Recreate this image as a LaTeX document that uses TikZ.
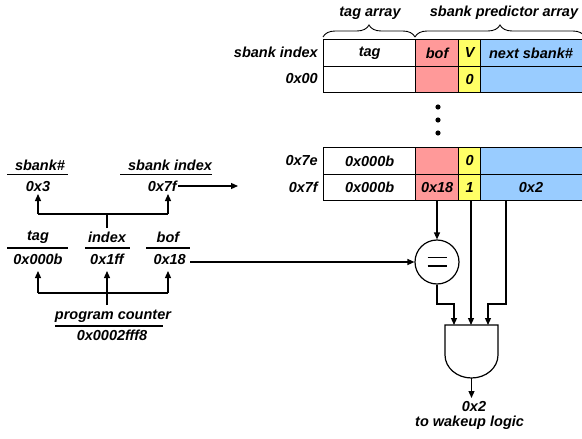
\documentclass[tikz,border=0pt]{standalone}
\usepackage{fontspec}
\setmainfont{Liberation Sans}
\usetikzlibrary{arrows.meta,decorations.pathreplacing,calc}
\definecolor{pinkc}{HTML}{FF9999}
\definecolor{yelc}{HTML}{FFFF66}
\definecolor{bluec}{HTML}{99CCFF}
\begin{document}
\begin{tikzpicture}[x=1pt,y=-1pt,
  txt/.style={font=\bfseries\itshape\fontsize{14.5}{16}\selectfont, inner sep=0pt},
  cell/.style={draw, line width=1.3pt, anchor=north west, minimum height=26.5pt, inner sep=0pt},
  wire/.style={line width=1.2pt},
  arr/.style={wire, -{Triangle[length=7pt,width=6pt]}},
  uline/.style={line width=1.2pt},
  brc/.style={decorate, decoration={brace, amplitude=12pt}, line width=0.9pt}]
\useasboundingbox (0,0) rectangle (582,439);
\clip (0,0) rectangle (582,439);
% table cells
\foreach \r/\y in {h/39, a/65.5, e/147, f/173.5}{
  \node[cell, minimum width=92pt] (tag\r) at (323,\y) {};
  \node[cell, minimum width=43pt, fill=pinkc] (bof\r) at (415,\y) {};
  \node[cell, minimum width=22pt, fill=yelc] (v\r) at (458,\y) {};
  \node[cell, minimum width=112pt, fill=bluec] (nx\r) at (480,\y) {};
}
% cell texts
\node[txt] at (tagh) {tag};
\node[txt] at (bofh) {bof};
\node[txt] at (vh) {V};
\node[txt] at (nxh.center -| 531,0) {next sbank\#};
\node[txt] at (va) {0};
\node[txt] at (tage) {0x000b};
\node[txt] at (ve) {0};
\node[txt] at (tagf) {0x000b};
\node[txt] at (boff) {0x18};
\node[txt] at (vf) {1};
\node[txt] at (nxf.center -| 531,0) {0x2};
% row labels
\node[txt, anchor=east] (rh) at (318,52.5) {sbank index};
\node[txt, anchor=east] (ra) at (318,79) {0x00};
\node[txt, anchor=east] (re) at (318,160.5) {0x7e};
\node[txt, anchor=east] (rf) at (318,187) {0x7f};
% braces
\draw[brc] (323,37) -- (415,37);
\draw[brc] (415,37) -- (585,37);
\node[txt] (tagarr) at (370,13) {tag array};
\node[txt] (sbarr) at (504,13) {sbank predictor array};
% dots
\foreach \y in {107,120,133}{\fill (438,\y) circle (2.6pt);}
% left side
\node[txt] (sbn) at (40,165) {sbank\#};
\draw[uline] (7,174.5) -- (68,174.5);
\node[txt] (v3) at (38,187) {0x3};
\node[txt] (sbi) at (170,165) {sbank index};
\draw[uline] (120,174.5) -- (212,174.5);
\node[txt, anchor=east] (v7f) at (177,186.5) {0x7f};
\node[txt] (tagL) at (38,237) {tag};
\draw[uline] (7,248) -- (68,248);
\node[txt] (v000b) at (38,259) {0x000b};
\node[txt] (idxL) at (107,237) {index};
\draw[uline] (85,248) -- (130,248);
\node[txt] (v1ff) at (107,259) {0x1ff};
\node[txt] (bofL) at (168,237) {bof};
\draw[uline] (146,248) -- (190,248);
\node[txt, anchor=east] (v18) at (186,259.5) {0x18};
\node[txt] (pc) at (113,316) {program counter};
\draw[uline] (55,326) -- (163,326);
\node[txt] (pcv) at (112,335) {0x0002fff8};
% upper tree
\coordinate (j1) at (107,214);
\coordinate (j1l) at (38,214);
\coordinate (j1r) at (168,214);
\draw[wire] (107,228) -- (j1);
\draw[wire] (j1l) -- (j1r);
\draw[arr] (j1l) -- (38,194);
\draw[arr] (j1r) -- (168,194);
\coordinate (o7f) at (238,186);
\draw[arr] (v7f.east |- o7f) ++(1,0) -- (o7f);
% lower tree
\coordinate (j2) at (107,293);
\coordinate (j2l) at (38,293);
\coordinate (j2r) at (168,293);
\draw[wire] (107,305) -- (j2);
\draw[wire] (j2l) -- (j2r);
\draw[arr] (j2l) -- (38,271);
\draw[arr] (j2) -- (107,271);
\draw[arr] (j2r) -- (168,271);
% comparator
\node[circle, draw, line width=1.2pt, minimum size=44pt, inner sep=0pt] (cmp) at (437,262) {};
\draw[line width=1.1pt] ($(cmp.center)+(-9.5,-4.5)$) -- +(19,0);
\draw[line width=1.1pt] ($(cmp.center)+(-9.5,4)$) -- +(19,0);
\draw[arr] (190,262) -- (cmp.west);
\draw[arr] (437,200) -- (cmp.north);
% AND gate
\coordinate (gin1) at (454,325);
\coordinate (gin2) at (471,325);
\coordinate (gin3) at (488,325);
\coordinate (gout) at (471.5,378);
\draw[line width=1.2pt] (445,325) -- (498,325) -- (498,355) arc[start angle=0, end angle=180, x radius=26.5, y radius=23] -- cycle;
\draw[arr] (cmp.south) -- (437,304) -- (454,304) -- (gin1);
\draw[arr] (471,200) -- (gin2);
\draw[arr] (506,200) -- (506,304) -- (488,304) -- (gin3);
\coordinate (oend) at (471.5,398);
\draw[arr] (gout) -- (oend);
\node[txt] (res) at (474,406.5) {0x2};
\node[txt, anchor=west] (wk) at (415,423) {to wakeup logic};
\end{tikzpicture}
\end{document}
